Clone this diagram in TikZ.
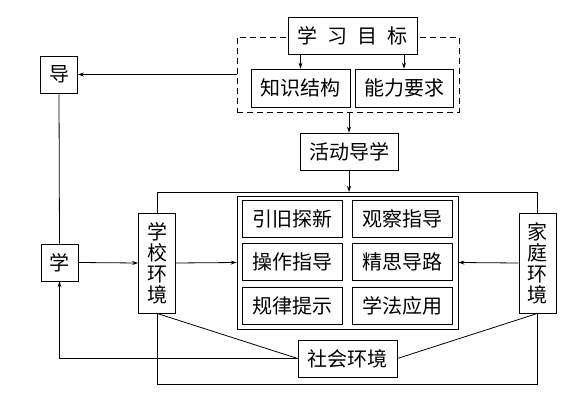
\documentclass[tikz,border=0pt]{standalone}
\usepackage{fontspec}
\newfontfamily\cjk{Noto Sans CJK SC}
\usetikzlibrary{arrows.meta,positioning,calc}
\tikzstyle{box} = [draw=black, line width=0.8pt, fill=white, inner sep=0pt, text centered, font=\cjk\fontsize{20}{21}\selectfont]
\tikzstyle{cell} = [box, minimum width=100pt, minimum height=37pt]
\tikzstyle{vbox} = [box, align=center, minimum width=37pt, minimum height=100pt]
\tikzstyle{arrow} = [line width=0.8pt, -{Stealth[length=6pt,width=4pt]}]
\tikzstyle{line} = [line width=0.8pt]
\begin{document}
\begin{tikzpicture}[x=1pt,y=-1pt]
      \useasboundingbox (0,0) rectangle (570,401);
      % dashed frame round the goals
      \node (frame) at (348,74.5) [draw, dashed, line width=0.8pt, dash pattern=on 6pt off 4pt, minimum width=222pt, minimum height=75pt] {};
      \node (goal) at (352.5,35.5) [box, minimum width=129pt, minimum height=37pt] {学\hspace{10pt}习\hspace{10pt}目\hspace{10pt}标};
      \node (know) at (300.5,88) [box, minimum width=99pt, minimum height=38pt] {知识结构};
      \node (abil) at (404,88) [box, minimum width=98pt, minimum height=38pt] {能力要求};
      \node (guide) at (59,74.5) [box, minimum width=37pt, minimum height=37pt] {导};
      \node (act) at (349,151.5) [box, minimum width=98pt, minimum height=37pt] {活动导学};
      \node (learn) at (59.5,262.5) [box, minimum width=37pt, minimum height=37pt] {学};
      % outer loop behind the environments
      \coordinate (otop) at (349,192);
      \draw[line] (157,192) rectangle (537.5,384);
      \node (school) at (157,263) [vbox] {学\\校\\环\\境};
      \node (family) at (537.5,263) [vbox] {家\\庭\\环\\境};
      \node (inner) at (347.5,262.5) [box, minimum width=221pt, minimum height=133pt] {};
      \node (c1) at (292,218.5) [cell] {引旧探新};
      \node (c2) at (402,218.5) [cell] {观察指导};
      \node (c3) at (292,261.5) [cell] {操作指导};
      \node (c4) at (402,261.5) [cell] {精思导路};
      \node (c5) at (292,306) [cell] {规律提示};
      \node (c6) at (402,306) [cell] {学法应用};
      \node (society) at (347.5,358.5) [box, minimum width=99pt, minimum height=37pt] {社会环境};
      \draw[arrow] (goal.south -| know) -- (know.north);
      \draw[arrow] (goal.south -| abil) -- (abil.north);
      \draw[arrow] (frame.west) -- (guide.east);
      \draw[line] (guide.south) -- (learn.north);
      \draw[arrow] (frame.south -| act) -- (act.north);
      \draw[arrow] (act.south) -- (otop);
      \draw[arrow] (learn.east) -- (school.west);
      \draw[arrow] (school.east) -- (inner.west);
      \draw[arrow] (family.west) -- (inner.east);
      \draw[line] (school.south) -- (society.west);
      \draw[line] (family.south) -- (society.east);
      \draw[arrow] (society.west) -| (learn.south);
\end{tikzpicture}
\end{document}
